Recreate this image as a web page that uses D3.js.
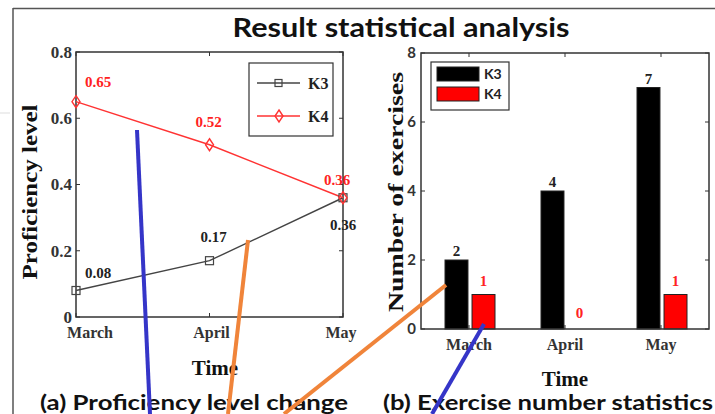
<!DOCTYPE html>
<html>
<head>
<meta charset="utf-8">
<script src="https://cdn.jsdelivr.net/npm/d3@7"></script>
<style>
  body { margin: 0; background: #fff; }
  svg { display: block; }
  .serif { font-family: "Liberation Serif", "Times New Roman", serif; font-weight: bold; }
  .sans { font-family: Lato, "Open Sans", sans-serif; font-weight: bold; }
</style>
</head>
<body>
<svg id="chart" width="715" height="414"></svg>
<script>
// donnees
var months = ["March", "April", "May"];
var series = ["K3", "K4"];
var proficiencyK3 = [0.08, 0.17, 0.36];
var proficiencyK4 = [0.65, 0.52, 0.36];
var exercisesK3 = [2, 4, 7];
var exercisesK4 = [1, 0, 1];
var profTicks = [0, 0.2, 0.4, 0.6, 0.8];
var exTicks = [0, 2, 4, 6, 8];
var seriesColor = { K3: "#444", K4: "#ff3333" };
var barColor = { K3: "#000", K4: "#ff0000" };

// traits de couleur ajoutes par-dessus la figure (annotations)
var overlayStrokes = [
  { color: "#3535c8", pts: [[137, 130], [150, 414]] },
  { color: "#f0843a", pts: [[248, 240], [228, 414]] },
  { color: "#f0843a", pts: [[446, 285], [284, 414]] },
  { color: "#3535c8", pts: [[484, 324], [432, 414]] }
];

var svg = d3.select("#chart");

// cadre exterieur
svg.append("line").attr("x1", 0).attr("x2", 10).attr("y1", 113).attr("y2", 113)
  .attr("stroke", "#ddd").attr("stroke-width", 1);
svg.append("line").attr("x1", 13).attr("x2", 715).attr("y1", 8.5).attr("y2", 8.5)
  .attr("stroke", "#555").attr("stroke-width", 1.5);
svg.append("line").attr("x1", 13).attr("x2", 13).attr("y1", 8).attr("y2", 414)
  .attr("stroke", "#555").attr("stroke-width", 1.5);

svg.append("text").attr("class", "sans")
  .attr("x", 401).attr("y", 37).attr("text-anchor", "middle")
  .attr("font-size", "27px").attr("fill", "#111")
  .attr("textLength", 337).attr("lengthAdjust", "spacingAndGlyphs")
  .text("Result statistical analysis");

function drawBox(g, x0, x1, y0, y1) {
  g.append("rect").attr("x", x0).attr("y", y0)
    .attr("width", x1 - x0).attr("height", y1 - y0)
    .attr("fill", "none").attr("stroke", "#333").attr("stroke-width", 1.5);
}

// ---------- (a) niveau ----------
var gA = svg.append("g");
var xA = d3.scalePoint().domain(months).range([76, 343]);
var yA = d3.scaleLinear().domain([0, 0.8]).range([317, 52]);

drawBox(gA, 76, 343, 52, 317);

// ticks interieurs
profTicks.forEach(function(t) {
  gA.append("line").attr("x1", 76).attr("x2", 80).attr("y1", yA(t)).attr("y2", yA(t)).attr("stroke", "#333");
  gA.append("line").attr("x1", 339).attr("x2", 343).attr("y1", yA(t)).attr("y2", yA(t)).attr("stroke", "#333");
  gA.append("text").attr("class", "serif")
    .attr("x", 72).attr("y", yA(t)).attr("dy", "0.35em")
    .attr("text-anchor", "end").attr("font-size", "17px").attr("fill", "#333")
    .text(t === 0 ? "0" : d3.format(".1f")(t));
});
months.forEach(function(m, i) {
  gA.append("line").attr("x1", xA(m)).attr("x2", xA(m)).attr("y1", 317).attr("y2", 313).attr("stroke", "#333");
  gA.append("line").attr("x1", xA(m)).attr("x2", xA(m)).attr("y1", 52).attr("y2", 56).attr("stroke", "#333");
  gA.append("text").attr("class", "serif")
    .attr("x", xA(m) + (i === 0 ? 14 : i === 2 ? -2 : 2)).attr("y", 338)
    .attr("text-anchor", "middle").attr("font-size", "16px").attr("fill", "#333")
    .text(m);
});

gA.append("text").attr("class", "serif")
  .attr("transform", "translate(37,192) rotate(-90)")
  .attr("text-anchor", "middle").attr("font-size", "22px").attr("fill", "#111")
  .attr("textLength", 175).attr("lengthAdjust", "spacingAndGlyphs")
  .text("Proficiency level");
gA.append("text").attr("class", "serif")
  .attr("x", 215).attr("y", 375).attr("text-anchor", "middle")
  .attr("font-size", "21px").attr("fill", "#111").text("Time");
gA.append("text").attr("class", "sans")
  .attr("x", 194).attr("y", 410).attr("text-anchor", "middle")
  .attr("font-size", "20px").attr("fill", "#111")
  .attr("textLength", 308).attr("lengthAdjust", "spacingAndGlyphs")
  .text("(a) Proficiency level change");

var line = d3.line().x(function(d, i) { return xA(months[i]); }).y(function(d) { return yA(d); });

gA.append("path").datum(proficiencyK3).attr("d", line)
  .attr("fill", "none").attr("stroke", seriesColor.K3).attr("stroke-width", 1.4);
gA.append("path").datum(proficiencyK4).attr("d", line)
  .attr("fill", "none").attr("stroke", seriesColor.K4).attr("stroke-width", 1.4);

gA.selectAll(".sq").data(proficiencyK3).enter().append("rect")
  .attr("x", function(d, i) { return xA(months[i]) - 4; })
  .attr("y", function(d) { return yA(d) - 4; })
  .attr("width", 8).attr("height", 8)
  .attr("fill", "none").attr("stroke", seriesColor.K3).attr("stroke-width", 1.2);

var diamond = "M0,-6L4,0L0,6L-4,0Z";
gA.selectAll(".dia").data(proficiencyK4).enter().append("path")
  .attr("d", diamond)
  .attr("transform", function(d, i) { return "translate(" + xA(months[i]) + "," + yA(d) + ")"; })
  .attr("fill", "none").attr("stroke", seriesColor.K4).attr("stroke-width", 1.4);

// etiquettes de valeurs
var offK3 = [[22, -13], [4, -19], [0, 32]];
var offK4 = [[22, -15], [-1, -18], [-6, -13]];
proficiencyK3.forEach(function(v, i) {
  gA.append("text").attr("class", "serif")
    .attr("x", xA(months[i]) + offK3[i][0]).attr("y", yA(v) + offK3[i][1])
    .attr("text-anchor", "middle").attr("font-size", "15px").attr("fill", "#222")
    .text(d3.format(".2f")(v));
});
proficiencyK4.forEach(function(v, i) {
  gA.append("text").attr("class", "serif")
    .attr("x", xA(months[i]) + offK4[i][0]).attr("y", yA(v) + offK4[i][1])
    .attr("text-anchor", "middle").attr("font-size", "15px").attr("fill", "#ff2222")
    .text(d3.format(".2f")(v));
});

// legende (a)
var legA = gA.append("g");
legA.append("rect").attr("x", 249).attr("y", 63).attr("width", 84).attr("height", 73)
  .attr("fill", "#fff").attr("stroke", "#333").attr("stroke-width", 1.2);
series.forEach(function(s, i) {
  var ly = 83 + i * 33;
  legA.append("line").attr("x1", 257).attr("x2", 300).attr("y1", ly).attr("y2", ly)
    .attr("stroke", seriesColor[s]).attr("stroke-width", 1.4);
  if (s === "K3") {
    legA.append("rect").attr("x", 275).attr("y", ly - 3.5).attr("width", 7).attr("height", 7)
      .attr("fill", "none").attr("stroke", seriesColor[s]).attr("stroke-width", 1.2);
  } else {
    legA.append("path").attr("d", diamond).attr("transform", "translate(279," + ly + ")")
      .attr("fill", "none").attr("stroke", seriesColor[s]).attr("stroke-width", 1.4);
  }
  legA.append("text").attr("class", "serif")
    .attr("x", 308).attr("y", ly).attr("dy", "0.35em")
    .attr("font-size", "16px").attr("fill", "#222").text(s);
});

// ---------- (b) exercices ----------
var gB = svg.append("g");
var xB = d3.scaleBand().domain(months).range([421, 709]).padding(0);
var xSub = d3.scaleBand().domain(series).range([-24, 26]).paddingInner(0.15);
var yB = d3.scaleLinear().domain([0, 8]).range([329, 53]);

exTicks.forEach(function(t) {
  gB.append("line").attr("x1", 421).attr("x2", 425).attr("y1", yB(t)).attr("y2", yB(t)).attr("stroke", "#333");
  gB.append("line").attr("x1", 705).attr("x2", 709).attr("y1", yB(t)).attr("y2", yB(t)).attr("stroke", "#333");
  gB.append("text").attr("class", "sans")
    .attr("x", 416).attr("y", yB(t)).attr("dy", "0.36em")
    .attr("text-anchor", "end").attr("font-size", "15px").attr("fill", "#333")
    .text(t);
});
months.forEach(function(m) {
  var cx = xB(m) + xB.bandwidth() / 2;
  gB.append("line").attr("x1", cx).attr("x2", cx).attr("y1", 329).attr("y2", 325).attr("stroke", "#333");
  gB.append("line").attr("x1", cx).attr("x2", cx).attr("y1", 53).attr("y2", 57).attr("stroke", "#333");
  gB.append("text").attr("class", "serif")
    .attr("x", cx).attr("y", 350)
    .attr("text-anchor", "middle").attr("font-size", "16px").attr("fill", "#333")
    .text(m);
});

var barData = [];
months.forEach(function(m, i) {
  barData.push({ month: m, s: "K3", v: exercisesK3[i] });
  barData.push({ month: m, s: "K4", v: exercisesK4[i] });
});

gB.selectAll(".bar").data(barData).enter().append("rect")
  .attr("x", function(d) { return xB(d.month) + xB.bandwidth() / 2 + xSub(d.s); })
  .attr("y", function(d) { return yB(d.v); })
  .attr("width", xSub.bandwidth())
  .attr("height", function(d) { return yB(0) - yB(d.v); })
  .attr("fill", function(d) { return barColor[d.s]; })
  .attr("stroke", function(d) { return d.v > 0 ? "#222" : "none"; })
  .attr("stroke-width", 1);

gB.selectAll(".blab").data(barData).enter().append("text")
  .attr("class", "serif")
  .attr("x", function(d) { return xB(d.month) + xB.bandwidth() / 2 + xSub(d.s) + xSub.bandwidth() / 2; })
  .attr("y", function(d) { return yB(d.v) - (d.s === "K3" ? 4 : d.v === 0 ? 11 : 9); })
  .attr("text-anchor", "middle").attr("font-size", "15px")
  .attr("fill", function(d) { return d.s === "K3" ? "#222" : "#ff2222"; })
  .text(function(d) { return d.v; });

drawBox(gB, 421, 709, 53, 329);

gB.append("text").attr("class", "serif")
  .attr("transform", "translate(403,192) rotate(-90)")
  .attr("text-anchor", "middle").attr("font-size", "22px").attr("fill", "#111")
  .attr("textLength", 240).attr("lengthAdjust", "spacingAndGlyphs")
  .text("Number of exercises");
gB.append("text").attr("class", "serif")
  .attr("x", 565).attr("y", 386).attr("text-anchor", "middle")
  .attr("font-size", "21px").attr("fill", "#111").text("Time");
gB.append("text").attr("class", "sans")
  .attr("x", 548).attr("y", 410).attr("text-anchor", "middle")
  .attr("font-size", "20px").attr("fill", "#111")
  .attr("textLength", 330).attr("lengthAdjust", "spacingAndGlyphs")
  .text("(b) Exercise number statistics");

// legende (b)
var legB = gB.append("g");
legB.append("rect").attr("x", 431).attr("y", 62).attr("width", 78).attr("height", 48)
  .attr("fill", "#fff").attr("stroke", "#333").attr("stroke-width", 1.2);
series.forEach(function(s, i) {
  var ly = 67 + i * 20;
  legB.append("rect").attr("x", 437).attr("y", ly).attr("width", 42).attr("height", 14)
    .attr("fill", barColor[s]).attr("stroke", "#222").attr("stroke-width", 1);
  legB.append("text").attr("class", "sans")
    .attr("x", 484).attr("y", ly + 7).attr("dy", "0.36em")
    .attr("font-size", "14px").attr("fill", "#222").text(s);
});

// annotations
overlayStrokes.forEach(function(o) {
  svg.append("path").attr("d", d3.line()(o.pts))
    .attr("stroke", o.color).attr("stroke-width", 4).attr("fill", "none");
});
</script>
</body>
</html>
